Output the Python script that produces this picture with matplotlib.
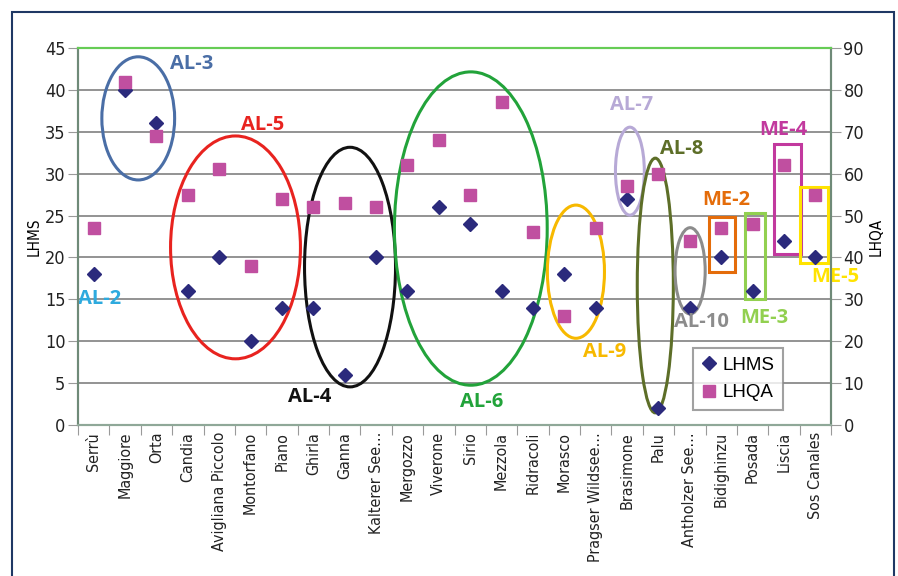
import matplotlib
matplotlib.use('Agg')
import matplotlib.pyplot as plt
from matplotlib.patches import Ellipse, Rectangle
from matplotlib import font_manager

lakes = ['Serrù', 'Maggiore', 'Orta', 'Candia', 'Avigliana Piccolo', 'Montorfano',
         'Piano', 'Ghirla', 'Ganna', 'Kalterer See…', 'Mergozzo', 'Viverone',
         'Sirio', 'Mezzola', 'Ridracoli', 'Morasco', 'Pragser Wildsee…', 'Brasimone',
         'Palu', 'Antholzer See…', 'Bidighinzu', 'Posada', 'Liscia', 'Sos Canales']
lhms = [18, 40, 36, 16, 20, 10, 14, 14, 6, 20, 16, 26, 24, 16, 14, 18, 14, 27,
        2, 14, 20, 16, 22, 20]
lhqa = [47, 82, 69, 55, 61, 38, 54, 52, 53, 52, 62, 68, 55, 77, 46, 26, 47, 57,
        60, 44, 47, 48, 62, 55]

# groups: (label, colour, centre x, centre y, width, height, label x, label y)
ellipses = [
    ('AL-3', '#4a6ea6', 1.42, 36.6, 2.32, 14.7, 3.12, 43.1),
    ('AL-5', '#e8231f', 4.52, 21.2, 4.14, 26.6, 5.38, 35.8),
    ('AL-4', '#111111', 8.17, 18.85, 2.9, 28.6, 6.88, 3.4),
    ('AL-6', '#22a33a', 12.02, 23.45, 4.87, 37.4, 12.37, 2.7),
    ('AL-9', '#f7b900', 15.37, 18.3, 1.82, 15.9, 16.27, 8.7),
    ('AL-7', '#b7a9d6', 17.09, 30.3, 0.92, 10.5, 17.15, 38.2),
    ('AL-8', '#5d6e28', 17.9, 16.65, 1.15, 30.4, 18.73, 32.9),
    ('AL-10', '#8c8c8c', 19.01, 18.4, 0.96, 10.3, 19.37, 12.3),
]
boxes = [
    ('ME-2', '#e46c0a', 19.62, 18.26, 0.83, 6.54, 20.16, 26.9),
    ('ME-3', '#92d050', 20.76, 15.0, 0.64, 10.3, 21.37, 12.8),
    ('ME-4', '#c2399e', 21.69, 20.4, 0.86, 13.1, 21.97, 35.2),
    ('ME-5', '#ffe300', 22.52, 19.3, 0.89, 9.1, 23.63, 17.7),
]

# look for a narrow face for the axis labels
narrow = None
for f in font_manager.fontManager.ttflist:
    nm = (f.name + ' ' + f.fname).lower()
    if ('condensed' in nm or 'narrow' in nm) and f.weight in (400, 'normal', 'regular') \
            and f.style == 'normal' and 'semi' not in nm and 'extra' not in nm:
        narrow = font_manager.FontProperties(fname=f.fname)
        break
if narrow is None:
    narrow = font_manager.FontProperties(family='DejaVu Sans')
    xsize, ysize = 10.5, 12
else:
    xsize, ysize = 11.5, 13

fig = plt.figure(figsize=(8.98, 5.76), dpi=100)
fig.patches.append(Rectangle((12 / 898, -0.1), 882 / 898, 1.1 - 12 / 576,
                             transform=fig.transFigure, fill=False,
                             edgecolor='#1f3864', linewidth=1.5))
ax = fig.add_axes([78 / 898, 1 - 425 / 576, 753 / 898, 377 / 576])
ax2 = ax.twinx()

x = list(range(len(lakes)))
d, = ax.plot(x, lhms, linestyle='none', marker='D', markersize=7,
             color='#2b2a7c', label='LHMS', zorder=5)
s, = ax2.plot(x, lhqa, linestyle='none', marker='s', markersize=9,
              color='#c04fa0', label='LHQA', zorder=5)

ax.set_xlim(-0.5, len(lakes) - 0.5)
ax.set_ylim(0, 45)
ax2.set_ylim(0, 90)
ax.set_yticks(range(0, 50, 5))
ax2.set_yticks(range(0, 100, 10))

for yv in range(5, 45, 5):
    ax.axhline(yv, color='#8a8a8a', linewidth=1.3, zorder=0)

ax.set_xticks([i - 0.5 for i in range(len(lakes) + 1)])
ax.set_xticklabels([])
ax.set_xticks(x, minor=True)
ax.set_xticklabels(lakes, minor=True, rotation=90)
ax.tick_params(axis='x', which='major', length=7, color='#9a9a9a', direction='out')
ax.tick_params(axis='x', which='minor', length=0, pad=5)
ax.tick_params(axis='y', length=7, color='#9a9a9a', pad=2)
ax2.tick_params(axis='y', length=7, color='#9a9a9a', pad=2)
for t in ax.get_xticklabels(minor=True):
    t.set_fontproperties(narrow)
    t.set_fontsize(xsize)
    t.set_color('#222222')
for t in ax.get_yticklabels() + ax2.get_yticklabels():
    t.set_fontproperties(narrow)
    t.set_fontsize(ysize)
    t.set_color('#222222')

for a in (ax, ax2):
    a.spines['left'].set_color('#6f8a78')
    a.spines['right'].set_color('#6f8a78')
    a.spines['bottom'].set_color('#8fa898')
    a.spines['top'].set_color('#66cc55')
    for sp in a.spines.values():
        sp.set_linewidth(1.5)

ax.set_ylabel('LHMS', fontproperties=narrow, fontsize=11, labelpad=2)
ax2.set_ylabel('LHQA', fontproperties=narrow, fontsize=11, labelpad=3)

lab_font = ['Open Sans', 'DejaVu Sans']
for name, col, cx, cy, w, h, lx, ly in ellipses:
    ax.add_patch(Ellipse((cx, cy), w, h, fill=False, edgecolor=col,
                         linewidth=2.2, zorder=3))
    ax.text(lx, ly, name, color=col, fontsize=14.5, fontweight='bold',
            family=lab_font, ha='center', va='center', zorder=6)
for name, col, x0, y0, w, h, lx, ly in boxes:
    ax.add_patch(Rectangle((x0, y0), w, h, fill=False, edgecolor=col,
                           linewidth=2.2, zorder=3))
    ax.text(lx, ly, name, color=col, fontsize=14.5, fontweight='bold',
            family=lab_font, ha='center', va='center', zorder=6)
ax.text(0.2, 15, 'AL-2', color='#2eaade', fontsize=14.5, fontweight='bold',
        family=lab_font, ha='center', va='center', zorder=6)

leg = ax2.legend(handles=[d, s], loc='lower right', bbox_to_anchor=(0.936, 0.04),
                 prop={'family': 'Liberation Sans', 'size': 13.5},
                 frameon=True, fancybox=False, edgecolor='#8a8a8a',
                 handlelength=0.8, handletextpad=0.3, borderpad=0.45,
                 labelspacing=0.55, borderaxespad=0)
leg.get_frame().set_linewidth(1.5)
leg.set_zorder(10)

fig.savefig('out.png', dpi=100)
